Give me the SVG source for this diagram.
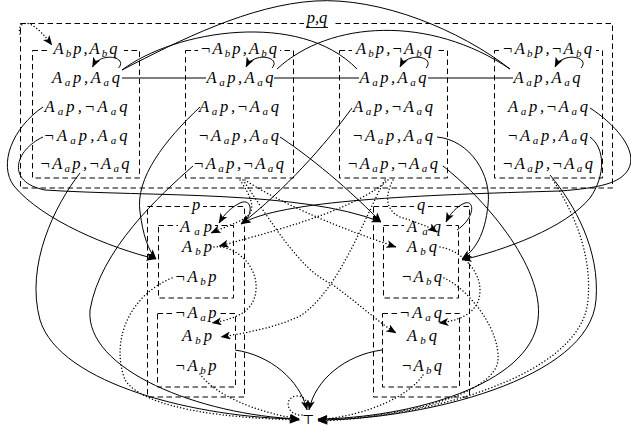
<svg xmlns="http://www.w3.org/2000/svg" width="631" height="431" viewBox="0 0 631 431">
<defs>
<marker id="ah" viewBox="0 0 10 8" refX="9.5" refY="4" markerWidth="10" markerHeight="8" markerUnits="userSpaceOnUse" orient="auto"><path d="M0,0 L10,4 L0,8 L2.5,4 z" fill="#000"/></marker>
</defs>
<style>
.t{font-family:"Liberation Serif","DejaVu Serif",serif;font-style:italic;font-size:16.5px;fill:#000;text-anchor:middle}
.s{font-size:11px}
.n{font-style:normal}
.box{fill:none;stroke:#000;stroke-width:1;stroke-dasharray:5.5 3.5}
.e{fill:none;stroke:#000;stroke-width:1}
.d{fill:none;stroke:#000;stroke-width:1.5;stroke-dasharray:0 3.3;stroke-linecap:round}
.a{marker-end:url(#ah)}
.bg{fill:#fff}
.top{font-family:"DejaVu Serif",serif;font-size:13px;text-anchor:middle;fill:#000}
</style>
<rect width="631" height="431" fill="#fff"/>

<g id="pq">
<rect class="box" x="20.5" y="23.5" width="592" height="164.5"/>
<rect class="bg" x="304" y="12" width="28" height="17"/>
<text class="t" x="317" y="23">p,q</text>
<line x1="306" y1="27.5" x2="328" y2="27.5" stroke="#000" stroke-width="0.9"/>
</g>

<g id="col1">
<rect class="box" x="32.5" y="50.5" width="107" height="127.5"/>
<rect class="bg" x="47" y="43" width="77" height="14"/>
<text class="t" x="85.5" y="54" textLength="64" lengthAdjust="spacing">A<tspan class="s" dy="3">b</tspan><tspan dy="-3">p</tspan>,A<tspan class="s" dy="3">b</tspan><tspan dy="-3">q</tspan></text>
<text class="t" x="86" y="83" textLength="68" lengthAdjust="spacing">A<tspan class="s" dy="3">a</tspan><tspan dy="-3">p</tspan>,A<tspan class="s" dy="3">a</tspan><tspan dy="-3">q</tspan></text>
<text class="t" x="86" y="111.5" textLength="83" lengthAdjust="spacing">A<tspan class="s" dy="3">a</tspan><tspan dy="-3">p</tspan>,<tspan class="n">¬</tspan>A<tspan class="s" dy="3">a</tspan><tspan dy="-3">q</tspan></text>
<text class="t" x="86" y="140.5" textLength="83" lengthAdjust="spacing"><tspan class="n">¬</tspan>A<tspan class="s" dy="3">a</tspan><tspan dy="-3">p</tspan>,A<tspan class="s" dy="3">a</tspan><tspan dy="-3">q</tspan></text>
<text class="t" x="85" y="169" textLength="89" lengthAdjust="spacing"><tspan class="n">¬</tspan>A<tspan class="s" dy="3">a</tspan><tspan dy="-3">p</tspan>,<tspan class="n">¬</tspan>A<tspan class="s" dy="3">a</tspan><tspan dy="-3">q</tspan></text>
</g>

<g id="col2">
<rect class="box" x="185.5" y="50.5" width="108" height="127.5"/>
<rect class="bg" x="198" y="43" width="82" height="14"/>
<text class="t" x="239" y="54" textLength="76" lengthAdjust="spacing"><tspan class="n">¬</tspan>A<tspan class="s" dy="3">b</tspan><tspan dy="-3">p</tspan>,A<tspan class="s" dy="3">b</tspan><tspan dy="-3">q</tspan></text>
<text class="t" x="240" y="83" textLength="67" lengthAdjust="spacing">A<tspan class="s" dy="3">a</tspan><tspan dy="-3">p</tspan>,A<tspan class="s" dy="3">a</tspan><tspan dy="-3">q</tspan></text>
<text class="t" x="239" y="111.5" textLength="80" lengthAdjust="spacing">A<tspan class="s" dy="3">a</tspan><tspan dy="-3">p</tspan>,<tspan class="n">¬</tspan>A<tspan class="s" dy="3">a</tspan><tspan dy="-3">q</tspan></text>
<text class="t" x="239" y="140.5" textLength="80" lengthAdjust="spacing"><tspan class="n">¬</tspan>A<tspan class="s" dy="3">a</tspan><tspan dy="-3">p</tspan>,A<tspan class="s" dy="3">a</tspan><tspan dy="-3">q</tspan></text>
<text class="t" x="239" y="169" textLength="90" lengthAdjust="spacing"><tspan class="n">¬</tspan>A<tspan class="s" dy="3">a</tspan><tspan dy="-3">p</tspan>,<tspan class="n">¬</tspan>A<tspan class="s" dy="3">a</tspan><tspan dy="-3">q</tspan></text>
</g>

<g id="col3">
<rect class="box" x="339.5" y="50.5" width="108" height="127.5"/>
<rect class="bg" x="352" y="43" width="85" height="14"/>
<text class="t" x="394" y="54" textLength="76" lengthAdjust="spacing">A<tspan class="s" dy="3">b</tspan><tspan dy="-3">p</tspan>,<tspan class="n">¬</tspan>A<tspan class="s" dy="3">b</tspan><tspan dy="-3">q</tspan></text>
<text class="t" x="393" y="83" textLength="67" lengthAdjust="spacing">A<tspan class="s" dy="3">a</tspan><tspan dy="-3">p</tspan>,A<tspan class="s" dy="3">a</tspan><tspan dy="-3">q</tspan></text>
<text class="t" x="393" y="111.5" textLength="80" lengthAdjust="spacing">A<tspan class="s" dy="3">a</tspan><tspan dy="-3">p</tspan>,<tspan class="n">¬</tspan>A<tspan class="s" dy="3">a</tspan><tspan dy="-3">q</tspan></text>
<text class="t" x="393" y="140.5" textLength="80" lengthAdjust="spacing"><tspan class="n">¬</tspan>A<tspan class="s" dy="3">a</tspan><tspan dy="-3">p</tspan>,A<tspan class="s" dy="3">a</tspan><tspan dy="-3">q</tspan></text>
<text class="t" x="393" y="169" textLength="90" lengthAdjust="spacing"><tspan class="n">¬</tspan>A<tspan class="s" dy="3">a</tspan><tspan dy="-3">p</tspan>,<tspan class="n">¬</tspan>A<tspan class="s" dy="3">a</tspan><tspan dy="-3">q</tspan></text>
</g>

<g id="col4">
<rect class="box" x="494.5" y="50.5" width="108" height="127.5"/>
<rect class="bg" x="499" y="43" width="97" height="14"/>
<text class="t" x="547.5" y="54" textLength="89" lengthAdjust="spacing"><tspan class="n">¬</tspan>A<tspan class="s" dy="3">b</tspan><tspan dy="-3">p</tspan>,<tspan class="n">¬</tspan>A<tspan class="s" dy="3">b</tspan><tspan dy="-3">q</tspan></text>
<text class="t" x="547" y="83" textLength="67" lengthAdjust="spacing">A<tspan class="s" dy="3">a</tspan><tspan dy="-3">p</tspan>,A<tspan class="s" dy="3">a</tspan><tspan dy="-3">q</tspan></text>
<text class="t" x="548" y="111.5" textLength="80" lengthAdjust="spacing">A<tspan class="s" dy="3">a</tspan><tspan dy="-3">p</tspan>,<tspan class="n">¬</tspan>A<tspan class="s" dy="3">a</tspan><tspan dy="-3">q</tspan></text>
<text class="t" x="548" y="140.5" textLength="80" lengthAdjust="spacing"><tspan class="n">¬</tspan>A<tspan class="s" dy="3">a</tspan><tspan dy="-3">p</tspan>,A<tspan class="s" dy="3">a</tspan><tspan dy="-3">q</tspan></text>
<text class="t" x="548" y="169" textLength="90" lengthAdjust="spacing"><tspan class="n">¬</tspan>A<tspan class="s" dy="3">a</tspan><tspan dy="-3">p</tspan>,<tspan class="n">¬</tspan>A<tspan class="s" dy="3">a</tspan><tspan dy="-3">q</tspan></text>
</g>

<g id="p">
<rect class="box" x="147.5" y="206.5" width="97" height="190.5"/>
<rect class="bg" x="189" y="199" width="14" height="12"/>
<text class="t" x="196" y="210">p</text>
</g>
<g id="p1">
<rect class="box" x="158.5" y="225.5" width="75" height="72.5"/>
<rect class="bg" x="178" y="219" width="37" height="13"/>
<text class="t" x="196" y="231.5" textLength="32" lengthAdjust="spacing">A<tspan class="s" dy="3">a</tspan><tspan dy="-3">p</tspan></text>
<text class="t" x="197" y="251.5" textLength="30" lengthAdjust="spacing">A<tspan class="s" dy="3">b</tspan><tspan dy="-3">p</tspan></text>
<text class="t" x="196" y="281.5" textLength="41" lengthAdjust="spacing"><tspan class="n">¬</tspan>A<tspan class="s" dy="3">b</tspan><tspan dy="-3">p</tspan></text>
</g>
<g id="p2">
<rect class="box" x="157.5" y="313.5" width="78" height="73.5"/>
<rect class="bg" x="173" y="306" width="46" height="13"/>
<text class="t" x="196" y="317.5" textLength="41" lengthAdjust="spacing"><tspan class="n">¬</tspan>A<tspan class="s" dy="3">a</tspan><tspan dy="-3">p</tspan></text>
<text class="t" x="197" y="340.5" textLength="30" lengthAdjust="spacing">A<tspan class="s" dy="3">b</tspan><tspan dy="-3">p</tspan></text>
<text class="t" x="196" y="370.5" textLength="41" lengthAdjust="spacing"><tspan class="n">¬</tspan>A<tspan class="s" dy="3">b</tspan><tspan dy="-3">p</tspan></text>
</g>

<g id="q">
<rect class="box" x="373.5" y="206.5" width="96" height="190.5"/>
<rect class="bg" x="414" y="199" width="14" height="12"/>
<text class="t" x="421" y="210">q</text>
</g>
<g id="q1">
<rect class="box" x="383.5" y="225.5" width="75" height="72.5"/>
<rect class="bg" x="404" y="219" width="40" height="13"/>
<text class="t" x="424" y="231.5" textLength="34" lengthAdjust="spacing">A<tspan class="s" dy="3">a</tspan><tspan dy="-3">q</tspan></text>
<text class="t" x="422" y="251.5" textLength="30" lengthAdjust="spacing">A<tspan class="s" dy="3">b</tspan><tspan dy="-3">q</tspan></text>
<text class="t" x="422" y="281.5" textLength="40" lengthAdjust="spacing"><tspan class="n">¬</tspan>A<tspan class="s" dy="3">b</tspan><tspan dy="-3">q</tspan></text>
</g>
<g id="q2">
<rect class="box" x="382.5" y="313.5" width="77" height="73.5"/>
<rect class="bg" x="398" y="306" width="46" height="13"/>
<text class="t" x="421" y="317.5" textLength="42" lengthAdjust="spacing"><tspan class="n">¬</tspan>A<tspan class="s" dy="3">a</tspan><tspan dy="-3">q</tspan></text>
<text class="t" x="422" y="340.5" textLength="30" lengthAdjust="spacing">A<tspan class="s" dy="3">b</tspan><tspan dy="-3">q</tspan></text>
<text class="t" x="422" y="370.5" textLength="40" lengthAdjust="spacing"><tspan class="n">¬</tspan>A<tspan class="s" dy="3">b</tspan><tspan dy="-3">q</tspan></text>
</g>

<g id="top">
<text class="top" x="308" y="424" fill="#000">⊤</text>
</g>

<g id="connectors">
<path class="e a" d="M118.5,68 C128.5,57 100.5,51 92.5,67"/>
<path class="e a" d="M272,68 C282,57 254,51 246,67"/>
<path class="e a" d="M426,68 C436,57 408,51 400,67"/>
<path class="e a" d="M581,68 C591,57 563,51 555,67"/>
<path class="e" d="M122,78 H206 M274,78 H359 M428,78 H513"/>
<path class="e" d="M122,70 C180,40 250,5 315,1 C380,-3 460,30 510,69"/>
<path class="e" d="M122,70 C175,30 300,10 357,69"/>
<path class="e" d="M277,69 C330,20 430,15 510,69"/>

<path class="e a" d="M43,107 C12,128 -2,165 14,186 C42,220 110,248 156,259"/>
<path class="e a" d="M43,137 C15,150 5,182 45,190 C150,197 300,190 381,222"/>
<path class="e a" d="M200,107 C165,140 135,178 140,212 C143,235 148,250 156,259"/>
<path class="e a" d="M352,108 C325,145 285,190 241,224"/>
<path class="e a" d="M590,108 C612,122 640,150 628,170 C620,183 600,188 560,191 C420,195 280,200 241,224"/>
<path class="e a" d="M590,137 C605,148 606,175 590,198 C565,228 505,250 462,260"/>
<path class="e a" d="M437,137 C470,140 492,175 488,205 C485,235 475,250 462,259"/>
<path class="e a" d="M280,137 C300,150 340,180 381,222"/>
<path class="e a" d="M80,173 C55,205 25,265 40,320 C60,385 200,418 299,419"/>
<path class="e a" d="M193,166 C160,195 100,250 90,310 C85,370 200,415 299,419"/>
<path class="e a" d="M443,166 C480,195 545,265 538,320 C530,385 410,418 318,419"/>
<path class="e a" d="M550,175 C575,205 600,250 596,300 C590,380 420,420 318,420"/>
<path class="e a" d="M235,350 C270,355 300,380 307,410"/>
<path class="e a" d="M382,350 C345,355 315,380 309,410"/>
<path class="e a" d="M244,223 C255,210 250,198 240,203 C232,207 225,213 219,223"/>
<path class="e a" d="M457,230 C475,218 475,200 465,203 C457,206 450,214 446,222"/>

<path class="d a" d="M20,34 C18,26 22,22 30,24 C38,28 45,36 52,45"/>
<path class="d a" d="M240,180 C250,195 258,210 245,218 C235,224 222,228 211,233"/>
<path class="d a" d="M388,180 C360,205 300,225 219,246"/>
<path class="d a" d="M385,180 C365,215 340,290 300,316 C275,328 245,333 221,337"/>
<path class="d a" d="M245,180 C275,200 330,225 396,247"/>
<path class="d a" d="M243,180 C270,220 300,270 330,283 C355,300 375,320 396,333"/>
<path class="d a" d="M393,180 C385,195 385,210 400,217 C415,222 428,226 437,232"/>
<path class="d a" d="M214,247 C235,245 258,265 256,290 C254,310 240,318 212,323"/>
<path class="d a" d="M440,247 C460,250 480,270 480,290 C480,310 465,320 439,323"/>
<path class="d a" d="M553,180 C575,215 592,255 588,300 C582,378 420,418 318,421"/>
<path class="d a" d="M172,278 C130,295 110,340 125,380 C145,410 230,418 299,420"/>
<path class="d a" d="M200,374 C215,395 255,412 299,419"/>
<path class="d a" d="M444,278 C470,290 500,330 498,360 C495,395 400,418 318,420"/>
<path class="d a" d="M423,375 C410,395 370,415 318,420"/>
<path class="d" d="M302,415 C287,416 283,398 296,396 C303,395 307,400 307,406"/>
</g>
</svg>
